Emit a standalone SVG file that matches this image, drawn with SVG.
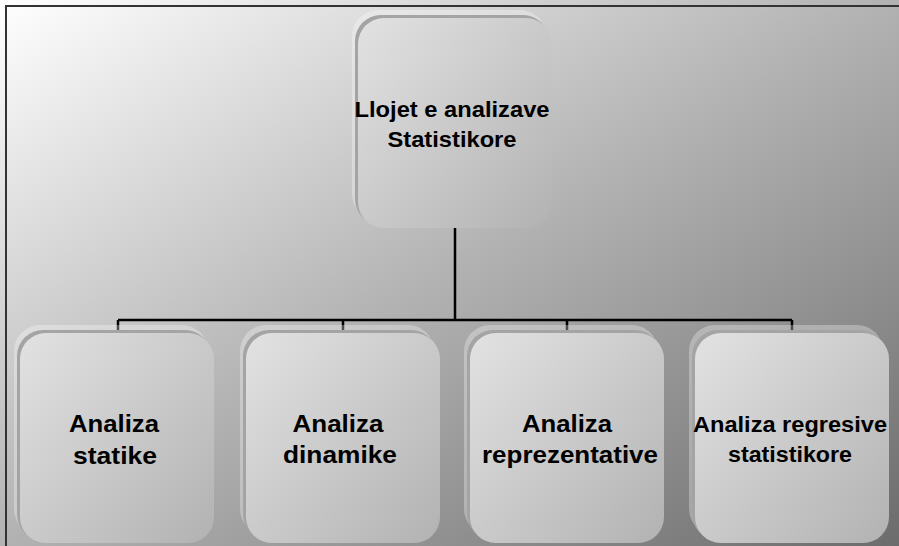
<svg xmlns="http://www.w3.org/2000/svg" width="899" height="546" viewBox="0 0 899 546">
  <defs>
    <linearGradient id="bg" x1="0" y1="0" x2="1" y2="1">
      <stop offset="0" stop-color="#ffffff"/>
      <stop offset="0.5" stop-color="#b2b2b2"/>
      <stop offset="1" stop-color="#6c6c6c"/>
    </linearGradient>
    <linearGradient id="face" x1="0" y1="0" x2="1" y2="1">
      <stop offset="0" stop-color="#e2e2e2"/>
      <stop offset="1" stop-color="#b2b2b2"/>
    </linearGradient>
    <style>
      .back { fill: #ffffff; fill-opacity: 0.3; }
      .band { fill: #a4a4a4; }
      .face { fill: url(#face); }
      .lbl { font-family: "Liberation Sans", Arial, sans-serif; font-weight: bold; fill: #000; text-anchor: middle; }
      .big { font-size: 24px; }
      .small { font-size: 22px; }
      .conn { stroke: #000; stroke-width: 2.5; fill: none; }
    </style>
  </defs>

  <rect x="0" y="0" width="899" height="546" fill="url(#bg)"/>
  <path d="M6 546 V6 H899" fill="none" stroke="#333" stroke-width="2"/>

  <g id="connectors">
    <path class="conn" d="M455 228 V320"/>
    <path class="conn" d="M118 320 H792"/>
    <path class="conn" stroke-width="2" d="M118 320 V332 M343 320 V332 M567 320 V332 M792 320 V332"/>
  </g>

  <g id="node-top">
    <rect class="back" x="352" y="10" width="194" height="210" rx="26"/>
    <rect class="band" x="355" y="15" width="194" height="210" rx="26"/>
    <rect class="face" x="358" y="18" width="194" height="210" rx="26"/>
    <text class="lbl small" x="452" y="117" textLength="195" lengthAdjust="spacingAndGlyphs">Llojet e analizave</text>
    <text class="lbl small" x="452" y="147" textLength="129" lengthAdjust="spacingAndGlyphs">Statistikore</text>
  </g>

  <g id="node-statike">
    <rect class="back" x="14" y="325" width="194" height="210" rx="26"/>
    <rect class="band" x="17" y="330" width="194" height="210" rx="26"/>
    <rect class="face" x="20" y="333" width="194" height="210" rx="26"/>
    <text class="lbl big" x="114" y="432" textLength="90" lengthAdjust="spacingAndGlyphs">Analiza</text>
    <text class="lbl big" x="115" y="464" textLength="84" lengthAdjust="spacingAndGlyphs">statike</text>
  </g>

  <g id="node-dinamike">
    <rect class="back" x="240" y="325" width="194" height="210" rx="26"/>
    <rect class="band" x="243" y="330" width="194" height="210" rx="26"/>
    <rect class="face" x="246" y="333" width="194" height="210" rx="26"/>
    <text class="lbl big" x="338" y="432" textLength="91" lengthAdjust="spacingAndGlyphs">Analiza</text>
    <text class="lbl big" x="340" y="463" textLength="114" lengthAdjust="spacingAndGlyphs">dinamike</text>
  </g>

  <g id="node-reprezentative">
    <rect class="back" x="464" y="325" width="194" height="210" rx="26"/>
    <rect class="band" x="467" y="330" width="194" height="210" rx="26"/>
    <rect class="face" x="470" y="333" width="194" height="210" rx="26"/>
    <text class="lbl big" x="567" y="432" textLength="90" lengthAdjust="spacingAndGlyphs">Analiza</text>
    <text class="lbl big" x="570" y="463" textLength="176" lengthAdjust="spacingAndGlyphs">reprezentative</text>
  </g>

  <g id="node-regresive">
    <rect class="back" x="689" y="325" width="194" height="210" rx="26"/>
    <rect class="band" x="692" y="330" width="194" height="210" rx="26"/>
    <rect class="face" x="695" y="333" width="194" height="210" rx="26"/>
    <text class="lbl small" x="790" y="432" textLength="194" lengthAdjust="spacingAndGlyphs">Analiza regresive</text>
    <text class="lbl small" x="790" y="462" textLength="124" lengthAdjust="spacingAndGlyphs">statistikore</text>
  </g>
</svg>
